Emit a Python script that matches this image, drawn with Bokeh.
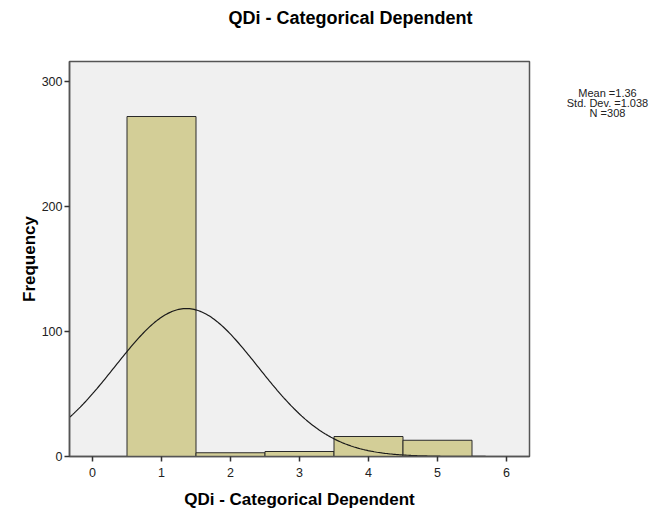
import numpy as np
from bokeh.plotting import figure
from bokeh.layouts import row
from bokeh.models import Range1d, FixedTicker, ColumnDataSource, Title
from bokeh.core.properties import value
from bokeh.embed import file_html
from bokeh.resources import INLINE

# Frequency of each response category
categories = [1, 2, 3, 4, 5]
counts = [272, 3, 4, 16, 13]
x_ticks = [0, 1, 2, 3, 4, 5, 6]
y_ticks = [0, 100, 200, 300]

TITLE = "QDi - Categorical Dependent"
FONT = "Liberation Sans"

# Summary statistics from the raw frequencies
vals = np.repeat(categories, counts).astype(float)
n = len(vals)
mean = vals.mean()
sd = vals.std(ddof=1)

FRAME_H = 395

p = figure(
    frame_width=460, frame_height=FRAME_H,
    min_border_left=69, min_border_right=2, min_border_top=61, min_border_bottom=57,
    x_range=Range1d(-1 / 3, 6 + 1 / 3), y_range=Range1d(0, 316),
    output_backend="svg", toolbar_location=None,
)
p.background_fill_color = "#F0F0F0"
p.border_fill_color = "white"
p.outline_line_color = "#555555"
p.outline_line_width = 1.5
p.grid.visible = False

# Blank band between the frame and the chart title
p.add_layout(Title(text=" ", text_font_size="1px", standoff=26), "above")
p.add_layout(Title(
    text=TITLE, text_font=FONT, text_font_size="18px", text_font_style="bold",
    text_color="black", align="left", offset=159, standoff=10,
), "above")

src = ColumnDataSource(dict(
    left=[c - 0.5 for c in categories],
    right=[c + 0.5 for c in categories],
    top=counts,
))
p.quad(left="left", right="right", bottom=0, top="top", source=src,
       fill_color="#D3CE97", line_color="#2a2a2a", line_width=1)

# Fitted normal curve scaled to the histogram (bin width 1)
xs = np.linspace(-1 / 3, 6 + 1 / 3, 300)
ys = n * np.exp(-0.5 * ((xs - mean) / sd) ** 2) / (sd * np.sqrt(2 * np.pi))
p.line(xs, ys, line_color="#1a1a1a", line_width=1.2)

for ax in (p.xaxis[0], p.yaxis[0]):
    ax.axis_line_color = "#555555"
    ax.axis_line_width = 1.5
    ax.major_tick_line_color = "#333333"
    ax.major_tick_line_width = 1.5
    ax.major_tick_out = 5
    ax.major_tick_in = 0
    ax.minor_tick_line_color = None
    ax.major_label_text_font = FONT
    ax.major_label_text_font_size = "12.5px"
    ax.major_label_text_color = "#222222"
    ax.axis_label_text_font = FONT
    ax.axis_label_text_font_size = "17px"
    ax.axis_label_text_font_style = "bold"
    ax.axis_label_text_color = "black"

p.xaxis.ticker = FixedTicker(ticks=x_ticks)
p.yaxis.ticker = FixedTicker(ticks=y_ticks)
p.xaxis.axis_label = TITLE
p.yaxis.axis_label = "Frequency"
p.xaxis.major_label_standoff = 6
p.yaxis.major_label_standoff = 2
p.xaxis.axis_label_standoff = 10
p.yaxis.axis_label_standoff = 0

# Side panel holding the summary statistics; its frame lines up with the plot frame
side = figure(
    width=139, height=513, x_range=Range1d(0, 139), y_range=Range1d(0, FRAME_H),
    x_axis_type=None, y_axis_type=None, min_border=0,
    output_backend="svg", toolbar_location=None,
)
side.outline_line_color = None
side.grid.visible = False
side.background_fill_color = "white"
side.border_fill_color = "white"

stats_lines = [f"Mean ={mean:.2f}", f"Std. Dev. ={sd:.3f}", f"N ={n}"]
side.text(x=[76, 76, 76], y=[364, 354, 344], text=stats_lines,
          text_align="center", text_baseline="middle",
          text_font=value(FONT), text_font_size="11px", text_color="#222222")

layout = row(p, side)
with open("out.html", "w") as f:
    f.write(file_html(layout, INLINE))
